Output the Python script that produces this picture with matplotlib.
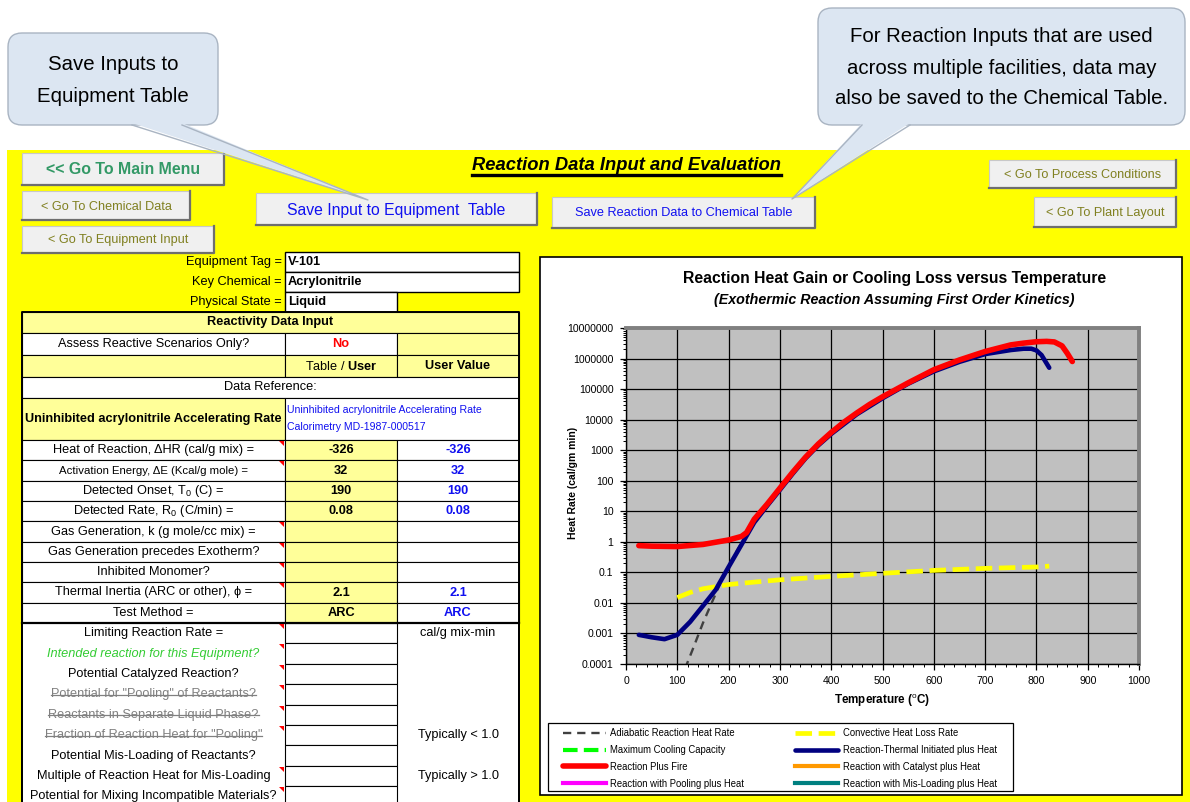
import numpy as np
import matplotlib
matplotlib.use("Agg")
import matplotlib.pyplot as plt
from matplotlib.patches import Rectangle, FancyBboxPatch, Polygon
from matplotlib.lines import Line2D
from matplotlib.ticker import FixedLocator, MultipleLocator, LogLocator, FuncFormatter, NullFormatter

plt.rcParams['font.family'] = ['Liberation Sans', 'DejaVu Sans']
plt.rcParams['mathtext.fontset'] = 'custom'
plt.rcParams['mathtext.rm'] = 'Liberation Sans'
plt.rcParams['mathtext.it'] = 'Liberation Sans:italic'
plt.rcParams['mathtext.bf'] = 'Liberation Sans:bold'

W, H = 1190, 802

# ---- chart data (temperature in C, heat rate in cal/gm min) ----
fire_T = [25, 50, 100, 150, 200, 225, 235, 250, 275, 300, 325, 350, 375, 400, 425, 450, 475,
          500, 550, 600, 650, 700, 750, 775, 800, 820, 835, 850, 860, 870]
fire_R = [0.75, 0.72, 0.7, 0.82, 1.15, 1.5, 2.0, 5.5, 17, 57, 190, 590, 1600, 3800, 8300, 16600, 31600,
          56000, 160000, 430000, 900000, 1.7e6, 2.8e6, 3.2e6, 3.55e6, 3.65e6, 3.5e6, 2.6e6, 1.5e6, 8e5]

thermal_T = [25, 50, 75, 100, 125, 150, 175, 200, 225, 240, 250, 275, 300, 325, 350, 375, 400, 450,
             500, 550, 600, 650, 700, 750, 775, 790, 800, 810, 825]
thermal_R = [0.0009, 0.00075, 0.00065, 0.0009, 0.0024, 0.008, 0.027, 0.15, 0.8, 2.2, 4.3, 15,
             50, 170, 540, 1450, 3400, 15000, 50000, 150000, 380000, 780000, 1.4e6, 1.9e6,
             2.1e6, 2.1e6, 1.85e6, 1.3e6, 5e5]

adiab_T = [115, 130, 150, 170, 190, 210, 230, 250]
adiab_R = [7e-5, 3e-4, 2.2e-3, 0.013, 0.075, 0.33, 1.3, 4.3]

conv_T = [100, 125, 150, 200, 250, 300, 400, 500, 600, 700, 800, 825]
conv_R = [0.015, 0.022, 0.029, 0.04, 0.048, 0.057, 0.074, 0.093, 0.116, 0.135, 0.15, 0.16]

legend_labels = ["Adiabatic Reaction Heat Rate", "Maximum Cooling Capacity", "Reaction Plus Fire",
                 "Reaction with Pooling plus Heat", "Convective Heat Loss Rate",
                 "Reaction-Thermal Initiated plus Heat", "Reaction with Catalyst plus Heat",
                 "Reaction with Mis-Loading plus Heat"]

# ---- sheet text ----
tag_labels = ["Equipment Tag =", "Key Chemical =", "Physical State ="]
tag_values = ["V-101", "Acrylonitrile", "Liquid"]

prop_labels = ["Heat of Reaction, \u0394HR (cal/g mix) =", "Activation Energy, \u0394E (Kcal/g mole) =",
               r"Detected Onset, T$_0$ (C) =", r"Detected Rate, R$_0$ (C/min) =",
               "Gas Generation, k (g mole/cc mix) =", "Gas Generation precedes Exotherm?",
               "Inhibited Monomer?", "Thermal Inertia (ARC or other), \u03d5 =", "Test Method ="]
prop_table = ["-326", "32", "190", "0.08", "", "", "", "2.1", "ARC"]
prop_user = ["-326", "32", "190", "0.08", "", "", "", "2.1", "ARC"]
prop_note = [1, 1, 0, 0, 1, 1, 1, 1, 0]

low_labels = ["Limiting Reaction Rate =", "Intended reaction for this Equipment?",
              "Potential Catalyzed Reaction?", 'Potential for "Pooling" of Reactants?',
              "Reactants in Separate Liquid Phase?", 'Fraction of Reaction Heat for "Pooling"',
              "Potential Mis-Loading of Reactants?", "Multiple of Reaction Heat for Mis-Loading",
              "Potential for Mixing Incompatible Materials?"]
low_style = ["plain", "green", "plain", "strike", "strike", "strike", "plain", "plain", "plain"]
low_units = ["cal/g mix-min", "", "", "", "", "Typically < 1.0", "", "Typically > 1.0", ""]
low_note = [1, 1, 1, 1, 1, 1, 0, 1, 1]

YELLOW = "#FFFF00"
CELL = "#FFFF99"
FS = 9.2

fig = plt.figure(figsize=(W / 100, H / 100), dpi=100)
bg = fig.add_axes([0, 0, 1, 1])
bg.set_xlim(0, W)
bg.set_ylim(H, 0)
bg.axis('off')


def box(x0, y0, x1, y1, fc, ec='black', lw=0.8, z=1):
    bg.add_patch(Rectangle((x0, y0), x1 - x0, y1 - y0, facecolor=fc, edgecolor=ec, lw=lw, zorder=z))


def txt(x, y, s, size=FS, ha='center', color='black', weight='normal', style='normal', z=5):
    return bg.text(x, y, s, fontsize=size, ha=ha, va='center', color=color,
                   fontweight=weight, fontstyle=style, zorder=z)


def button(x0, y0, x1, y1, s, color, size, weight='normal'):
    box(x0, y0, x1, y1, '#F0F0F0', ec='#C8C8C8', lw=0.8, z=3)
    bg.plot([x0, x1, x1], [y1, y1, y0], color='#6E6E6E', lw=1.6, zorder=3)
    txt((x0 + x1) / 2, (y0 + y1) / 2 + 1, s, size=size, color=color, weight=weight, z=4)


def note(x, y):
    bg.add_patch(Polygon([(x - 6, y + 1), (x - 1, y + 1), (x - 1, y + 6)], closed=True,
                         facecolor='red', edgecolor='none', zorder=6))


def callout(x0, y0, x1, y1, base, tip, lines, ly, size):
    fc, ec = '#DCE6F2', '#A9B4C2'
    bg.add_patch(FancyBboxPatch((x0, y0), x1 - x0, y1 - y0,
                                boxstyle="round,pad=0,rounding_size=14",
                                facecolor=fc, edgecolor=ec, lw=1.0, zorder=7))
    bg.add_patch(Polygon([(base[0], y1 - 2), (base[1], y1 - 2), tip], closed=True,
                         facecolor=fc, edgecolor='none', zorder=8))
    bg.plot([base[0], tip[0], base[1]], [y1, tip[1], y1], color=ec, lw=1.0, zorder=8)
    for s, yy in zip(lines, ly):
        txt((x0 + x1) / 2, yy, s, size=size, z=9)


# page background
box(7, 150, W + 5, H + 5, YELLOW, ec='none', z=0)

# buttons and heading
button(22, 153, 224, 185, "<< Go To Main Menu", '#339966', 11.4, 'bold')
button(22, 191, 190, 220, "< Go To Chemical Data", '#808020', 9.1)
button(22, 226, 214, 253, "< Go To Equipment Input", '#808020', 9.1)
button(256, 193, 537, 225, "Save Input to Equipment  Table", '#1010F0', 11.3)
button(552, 197, 815, 228, "Save Reaction Data to Chemical Table", '#1010F0', 9.2)
button(989, 160, 1176, 188, "< Go To Process Conditions", '#808020', 9.1)
button(1034, 197, 1176, 227, "< Go To Plant Layout", '#808020', 9.1)
title = txt(626, 165, "Reaction Data Input and Evaluation", size=13.2, weight='bold', style='italic')

# callouts
callout(8, 33, 218, 125, (132, 182), (368, 200), ["Save Inputs to", "Equipment Table"], [64, 96], 14.7)
callout(818, 8, 1185, 125, (862, 910), (792, 199),
        ["For Reaction Inputs that are used", "across multiple facilities, data may",
         "also be saved to the Chemical Table."], [36, 68, 99], 14.7)

# ---- input table ----
C0, C1, C2, C3 = 22, 285, 397, 519
tag_rows = [252, 272, 292, 312]
for i, (lab, val) in enumerate(zip(tag_labels, tag_values)):
    ya, yb = tag_rows[i], tag_rows[i + 1]
    right = C3 if i < 2 else C2
    box(C1, ya, right, yb, 'white', lw=1.0, z=2)
    txt(C1 - 3, (ya + yb) / 2, lab, ha='right')
    txt(C1 + 3, (ya + yb) / 2, val, ha='left', weight='bold')

# header rows
box(C0, 312, C3, 333, CELL, z=2)
txt((C0 + C3) / 2, 322.5, "Reactivity Data Input", weight='bold')
box(C0, 333, C1, 355, 'white', z=2)
box(C1, 333, C2, 355, 'white', z=2)
box(C2, 333, C3, 355, CELL, z=2)
txt((C0 + C1) / 2, 344, "Assess Reactive Scenarios Only?")
txt((C1 + C2) / 2, 344, "No", color='#FF0000', weight='bold')
box(C0, 355, C1, 377, CELL, z=2)
box(C1, 355, C2, 377, CELL, z=2)
box(C2, 355, C3, 377, CELL, z=2)
txt((C1 + C2) / 2, 366, r"Table / $\mathbf{User}$")
txt((C2 + C3) / 2, 366, "User Value", weight='bold')
box(C0, 377, C3, 398, 'white', z=2)
txt((C0 + C3) / 2, 387.5, "Data Reference:")
box(C0, 398, C1, 440, CELL, z=2)
box(C1, 398, C3, 440, 'white', z=2)
txt((C0 + C1) / 2, 419, "Uninhibited acrylonitrile Accelerating Rate", weight='bold')
txt(C1 + 2, 410, "Uninhibited acrylonitrile Accelerating Rate", size=7.6, ha='left', color='#1010F0')
txt(C1 + 2, 427, "Calorimetry MD-1987-000517", size=7.6, ha='left', color='#1010F0')

prop_edges = np.linspace(440, 623, len(prop_labels) + 1)
for i, lab in enumerate(prop_labels):
    ya, yb = prop_edges[i], prop_edges[i + 1]
    ym = (ya + yb) / 2
    box(C0, ya, C1, yb, 'white', z=2)
    box(C1, ya, C2, yb, CELL, z=2)
    box(C2, ya, C3, yb, 'white', z=2)
    txt((C0 + C1) / 2, ym, lab, size=8.2 if i == 1 else FS)
    txt((C1 + C2) / 2, ym, prop_table[i], weight='bold')
    txt((C2 + C3) / 2, ym, prop_user[i], weight='bold', color='#1010F0')
    if prop_note[i]:
        note(C1, ya)

low_edges = 623 + 20.4 * np.arange(len(low_labels) + 1)
box(C0, 623, C3, low_edges[-1], 'white', lw=1.2, z=2)
strikes = []
for i, lab in enumerate(low_labels):
    ya, yb = low_edges[i], low_edges[i + 1]
    ym = (ya + yb) / 2
    box(C1, ya, C2, yb, 'white', z=3)
    if low_style[i] == "green":
        txt((C0 + C1) / 2, ym, lab, color='#33CC33', style='italic')
    elif low_style[i] == "strike":
        strikes.append(txt((C0 + C1) / 2, ym, lab, color='#808080'))
    else:
        txt((C0 + C1) / 2, ym, lab)
    if low_units[i]:
        txt((C2 + C3) / 2, ym, low_units[i])
    if low_note[i]:
        note(C1, ya)

# table outer frame
bg.plot([C0, C0, C3, C3], [H + 5, 312, 312, H + 5], color='black', lw=1.4, zorder=4)
bg.plot([C0, C3], [623, 623], color='black', lw=1.6, zorder=4)

# ---- chart panel ----
box(540, 257, 1182, 795, 'white', lw=1.2, z=1)
txt(895, 278, "Reaction Heat Gain or Cooling Loss versus Temperature", size=11.3, weight='bold')
txt(894, 300, "(Exothermic Reaction Assuming First Order Kinetics)", size=10.3, weight='bold', style='italic')
box(548, 723, 1013, 791, 'white', lw=0.9, z=2)

ax = fig.add_axes([626 / W, 1 - 664 / H, (1139 - 626) / W, (664 - 328) / H])
ax.set_facecolor('#C0C0C0')
ax.set_yscale('log')
ax.set_xlim(0, 1000)
ax.set_ylim(1e-4, 1e7)

l_adiab, = ax.plot(adiab_T, adiab_R, color='#404040', lw=1.7, ls=(0, (3.5, 2.5)), zorder=2)
l_conv, = ax.plot(conv_T, conv_R, color=YELLOW, lw=3.4, ls=(0, (3.5, 1.4)), zorder=3)
l_therm, = ax.plot(thermal_T, thermal_R, color='#000080', lw=3.3, solid_capstyle='round',
                   solid_joinstyle='round', zorder=4)
l_fire, = ax.plot(fire_T, fire_R, color='#FF0000', lw=4.0, solid_capstyle='round',
                  solid_joinstyle='round', zorder=5)

ax.xaxis.set_major_locator(MultipleLocator(100))
ax.xaxis.set_minor_locator(MultipleLocator(20))
ax.yaxis.set_major_locator(FixedLocator([10.0 ** k for k in range(-4, 8)]))
ax.yaxis.set_minor_locator(LogLocator(base=10, subs=np.arange(2, 10), numticks=20))
ax.yaxis.set_minor_formatter(NullFormatter())
ax.yaxis.set_major_formatter(FuncFormatter(lambda v, _: np.format_float_positional(v, trim='-')))
ax.grid(True, which='major', color='black', lw=0.9)
ax.tick_params(which='both', direction='out', labelsize=7.6, colors='black')
ax.tick_params(which='major', length=4, width=0.9, pad=5)
ax.tick_params(which='minor', length=2, width=0.7)
for s in ['top', 'right']:
    ax.spines[s].set_color('#808080')
    ax.spines[s].set_linewidth(2.8)
for s in ['left', 'bottom']:
    ax.spines[s].set_color('black')
    ax.spines[s].set_linewidth(1.0)
ax.set_ylabel("Heat Rate (cal/gm min)", fontsize=7.5, fontweight='bold')
ax.yaxis.set_label_coords(-0.093, 0.54)
ax.set_xlabel(r"Temperature ($^{\mathrm{o}}$C)", fontsize=8.4, fontweight='bold', labelpad=4)

proxy = lambda c, ls: Line2D([], [], color=c, lw=3.0, ls=ls)
handles = [l_adiab, proxy('#00FF00', (0, (3.5, 1.5))), l_fire, proxy('#FF00FF', '-'),
           l_conv, l_therm, proxy('#FF9900', '-'), proxy('#008080', '-')]
fig.legend(handles=handles, labels=legend_labels, loc='upper left',
           bbox_to_anchor=(563 / W, 1 - 728 / H), ncol=2, fontsize=6.85, frameon=False,
           handlelength=4.5, handletextpad=0.45, columnspacing=5.4, labelspacing=0.72,
           borderpad=0, borderaxespad=0)

# strike-through and underline after layout is known
fig.canvas.draw()
rend = fig.canvas.get_renderer()
inv = bg.transData.inverted()
for t in strikes:
    bb = t.get_window_extent(rend)
    (xa, ya), (xb, yb) = inv.transform([[bb.x0, bb.y0], [bb.x1, bb.y1]])
    bg.plot([xa, xb], [(ya + yb) / 2 + 0.5] * 2, color='#808080', lw=0.9, zorder=6)
bb = title.get_window_extent(rend)
(xa, ya), (xb, yb) = inv.transform([[bb.x0, bb.y0], [bb.x1, bb.y1]])
bg.plot([xa, xb], [ya + 1.5, ya + 1.5], color='black', lw=2.4, zorder=6)

fig.savefig("out.png", dpi=100)
